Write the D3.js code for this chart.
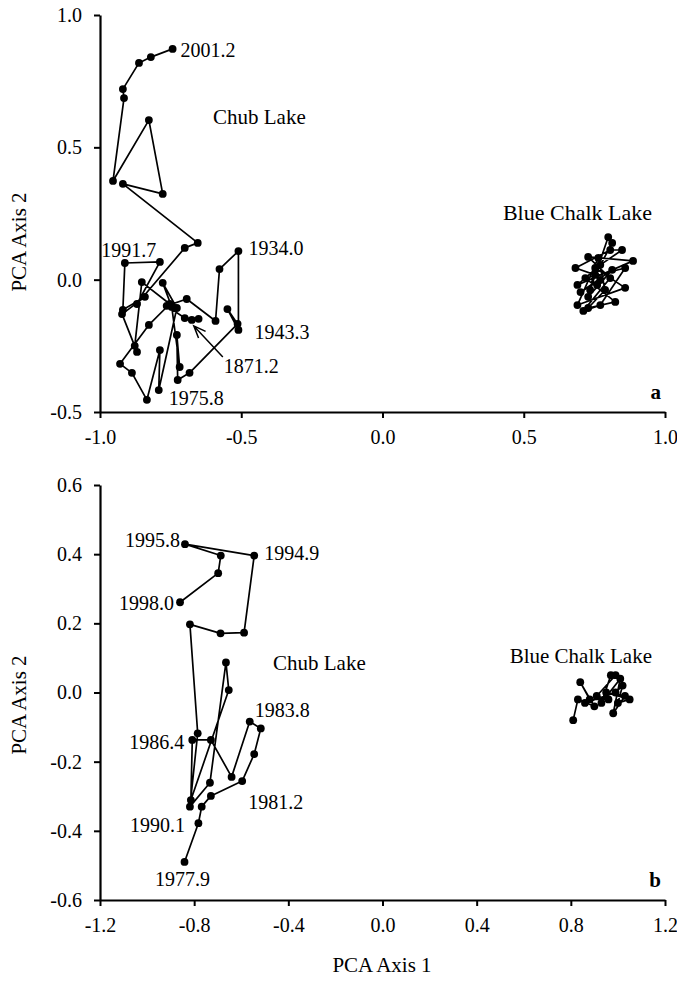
<!DOCTYPE html>
<html>
<head>
<meta charset="utf-8">
<script src="https://cdn.jsdelivr.net/npm/d3@7"></script>
<style>
  body { margin: 0; background: #fff; }
  svg text { font-family: "Liberation Serif", "Times New Roman", serif; fill: #000; }
</style>
</head>
<body>
<div id="chart"></div>
<script>
// ---- data ----
// panel a, Chub Lake trajectory, oldest (1871.2) to newest (2001.2)
const chubAx = [-0.675, -0.651, -0.700, -0.764, -0.693, -0.591, -0.577, -0.510, -0.510, -0.549,
  -0.513, -0.683, -0.725, -0.728, -0.718, -0.746, -0.778, -0.728, -0.792, -0.788,
  -0.834, -0.887, -0.929, -0.827, -0.753, -0.852, -0.877, -0.869, -0.922, -0.841,
  -0.919, -0.912, -0.788, -0.869, -0.700, -0.654, -0.919, -0.778, -0.827, -0.954,
  -0.915, -0.919, -0.862, -0.820, -0.743];
const chubAy = [-0.152, -0.148, -0.145, -0.099, -0.073, -0.156, 0.040, 0.108, -0.190, -0.111,
  -0.167, -0.352, -0.379, -0.209, -0.330, -0.103, -0.012, -0.107, -0.417, -0.266,
  -0.454, -0.352, -0.318, -0.171, -0.092, -0.009, -0.250, -0.273, -0.130, -0.065,
  -0.114, 0.063, 0.067, -0.092, 0.120, 0.139, 0.362, 0.324, 0.603, 0.373,
  0.686, 0.720, 0.819, 0.841, 0.872];
const chubALabels = [[0, "1871.2"], [7, "1934.0"], [8, "1943.3"], [18, "1975.8"], [31, "1991.7"], [44, "2001.2"]];

// panel a, Blue Chalk Lake
const blueAx = [0.735, 0.799, 0.813, 0.753, 0.683, 0.806, 0.848, 0.771, 0.690, 0.887,
  0.728, 0.806, 0.711, 0.771, 0.859, 0.718, 0.824, 0.728, 0.788, 0.764,
  0.690, 0.859, 0.753, 0.728, 0.813, 0.701, 0.771, 0.760];
const blueAy = [-0.039, 0.161, 0.139, 0.018, 0.044, 0.112, 0.112, 0.056, -0.020, 0.071,
  0.086, 0.006, -0.118, -0.096, 0.044, 0.006, -0.084, -0.107, -0.039, 0.082,
  -0.096, -0.031, 0.044, -0.065, 0.037, -0.047, -0.001, -0.020];

// panel b, Chub Lake trajectory, 1977.9 to 1998.0
const chubBx = [-0.841, -0.782, -0.768, -0.729, -0.596, -0.545, -0.517, -0.564, -0.641, -0.729,
  -0.808, -0.814, -0.653, -0.665, -0.733, -0.818, -0.785, -0.818, -0.688, -0.588,
  -0.545, -0.839, -0.687, -0.698, -0.860];
const chubBy = [-0.490, -0.378, -0.330, -0.299, -0.256, -0.178, -0.104, -0.084, -0.244, -0.137,
  -0.137, -0.311, 0.007, 0.087, -0.261, -0.330, -0.118, 0.197, 0.171, 0.173,
  0.396, 0.429, 0.396, 0.345, 0.261];
const chubBLabels = [[0, "1977.9"], [4, "1981.2"], [7, "1983.8"], [10, "1986.4"], [15, "1990.1"],
  [20, "1994.9"], [21, "1995.8"], [24, "1998.0"]];

// panel b, Blue Chalk Lake
const blueBx = [0.81, 0.83, 0.90, 0.84, 0.88, 0.96, 0.91, 0.99, 0.97, 0.93,
  1.01, 0.98, 1.03, 0.95, 1.05, 1.00, 1.02, 0.99, 0.86];
const blueBy = [-0.08, -0.02, -0.04, 0.03, -0.02, -0.02, -0.01, 0.05, 0.05, -0.03,
  0.04, -0.06, -0.01, 0.00, -0.02, -0.03, 0.02, 0.00, -0.03];

const ticksAx = [-1.0, -0.5, 0.0, 0.5, 1.0];
const ticksAy = [-0.5, 0.0, 0.5, 1.0];
const ticksBx = [-1.2, -0.8, -0.4, 0.0, 0.4, 0.8, 1.2];
const ticksBy = [-0.6, -0.4, -0.2, 0.0, 0.2, 0.4, 0.6];

// ---- drawing ----
const W = 677, H = 991;
const svg = d3.select("#chart").append("svg").attr("width", W).attr("height", H);

const zip = (xs, ys) => xs.map((x, i) => [x, ys[i]]);

function panel(opt) {
  const x = d3.scaleLinear().domain(opt.xDom).range([100, 665]);
  const y = d3.scaleLinear().domain(opt.yDom).range(opt.yRange);
  const g = svg.append("g");

  const xAxis = g.append("g")
    .attr("transform", `translate(0,${opt.yRange[0]})`)
    .call(d3.axisBottom(x).tickValues(opt.xTicks).tickFormat(d3.format(".1f"))
      .tickSize(6).tickSizeOuter(0).tickPadding(12));
  const yAxis = g.append("g")
    .attr("transform", "translate(100,0)")
    .call(d3.axisLeft(y).tickValues(opt.yTicks).tickFormat(d3.format(".1f"))
      .tickSize(6).tickSizeOuter(0).tickPadding(12));
  [xAxis, yAxis].forEach(a => {
    a.select(".domain").attr("stroke", "#000").attr("stroke-width", 2.2);
    a.selectAll(".tick line").attr("stroke", "#000").attr("stroke-width", 2);
    a.selectAll(".tick text").attr("font-size", 20)
      .attr("font-family", "Liberation Serif, serif").text(d => d3.format(".1f")(d).replace("−", "-"));
  });

  const line = d3.line().x(d => x(d[0])).y(d => y(d[1]));
  opt.series.forEach(s => {
    const pts = zip(s.xs, s.ys);
    g.append("path").datum(pts).attr("d", line)
      .attr("fill", "none").attr("stroke", "#000").attr("stroke-width", 1.7)
      .attr("stroke-linejoin", "round");
    g.selectAll(null).data(pts).enter().append("circle")
      .attr("cx", d => x(d[0])).attr("cy", d => y(d[1])).attr("r", 3.9).attr("fill", "#000");
    (s.labels || []).forEach(([i, txt]) => {
      const o = s.offsets[txt];
      g.append("text").attr("x", x(s.xs[i]) + o[0]).attr("y", y(s.ys[i]) + o[1])
        .attr("text-anchor", o[2] || "start").attr("font-size", 20).text(txt);
    });
  });

  opt.texts.forEach(t => {
    g.append("text").attr("x", t.x).attr("y", t.y).attr("font-size", t.size || 21)
      .attr("font-weight", t.bold ? "bold" : null).attr("text-anchor", t.anchor || "start").text(t.s);
  });

  g.append("text")
    .attr("transform", `translate(26,${opt.titleY}) rotate(-90)`)
    .attr("text-anchor", "middle").attr("font-size", 21).text("PCA Axis 2");

  return { g, x, y };
}

const pa = panel({
  xDom: [-1, 1], yDom: [-0.5, 1.0], yRange: [412, 15],
  xTicks: ticksAx, yTicks: ticksAy, titleY: 242,
  series: [
    { xs: chubAx, ys: chubAy, labels: chubALabels, offsets: {
      "1871.2": [32, 53], "1934.0": [10, 4], "1943.3": [16, 9],
      "1975.8": [10, 15], "1991.7": [4, -6, "middle"], "2001.2": [8, 8] } },
    { xs: blueAx, ys: blueAy }
  ],
  texts: [
    { s: "Chub Lake", x: 213, y: 124 },
    { s: "Blue Chalk Lake", x: 652, y: 220, anchor: "end", size: 22 },
    { s: "a", x: 661, y: 399, bold: true, anchor: "end" }
  ]
});

// arrow pointing to the 1871.2 sample
{
  const px = pa.x(chubAx[0]), py = pa.y(chubAy[0]);
  const tip = [px + 2, py + 6], tail = [px + 31, py + 37];
  const ang = Math.atan2(tail[1] - tip[1], tail[0] - tip[0]);
  const L = 13, spread = 0.38;
  const w1 = [tip[0] + L * Math.cos(ang - spread), tip[1] + L * Math.sin(ang - spread)];
  const w2 = [tip[0] + L * Math.cos(ang + spread), tip[1] + L * Math.sin(ang + spread)];
  pa.g.append("path")
    .attr("d", `M${tail}L${tip}M${w1}L${tip}L${w2}`)
    .attr("fill", "none").attr("stroke", "#000").attr("stroke-width", 1.5);
}

panel({
  xDom: [-1.2, 1.2], yDom: [-0.6, 0.6], yRange: [900, 485],
  xTicks: ticksBx, yTicks: ticksBy, titleY: 705,
  series: [
    { xs: chubBx, ys: chubBy, labels: chubBLabels, offsets: {
      "1977.9": [-2, 24, "middle"], "1981.2": [6, 28], "1983.8": [5, -5],
      "1986.4": [-8, 9, "end"], "1990.1": [-5, 25, "end"], "1994.9": [10, 4],
      "1995.8": [-5, 3, "end"], "1998.0": [-6, 8, "end"] } },
    { xs: blueBx, ys: blueBy }
  ],
  texts: [
    { s: "Chub Lake", x: 273, y: 670 },
    { s: "Blue Chalk Lake", x: 652, y: 663, anchor: "end" },
    { s: "b", x: 661, y: 887, bold: true, anchor: "end" }
  ]
});

svg.append("text").attr("x", 382).attr("y", 972).attr("text-anchor", "middle")
  .attr("font-size", 21).text("PCA Axis 1");
</script>
</body>
</html>
